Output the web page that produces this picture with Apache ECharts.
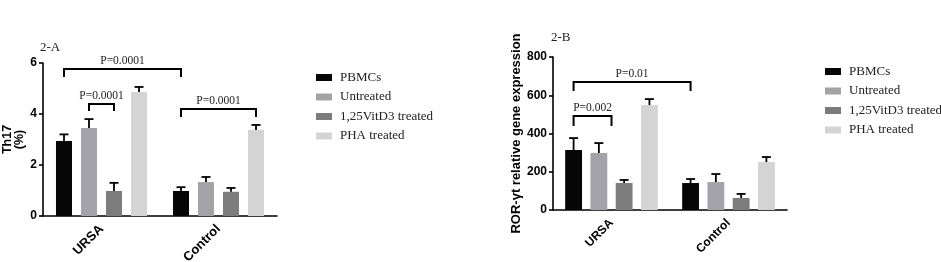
<!DOCTYPE html>
<html>
<head>
<meta charset="utf-8">
<script src="https://cdn.jsdelivr.net/npm/echarts@6/dist/echarts.min.js"></script>
<style>html,body{margin:0;padding:0;background:#fff}#c{width:941px;height:262px}</style>
</head>
<body>
<div id="c"></div>
<script>
// ---- data ----
const categories = ['URSA', 'Control'];
const groupNames = ['PBMCs', 'Untreated', '1,25VitD3 treated', 'PHA treated'];
const groupColors = ['#060606', '#a2a2a8', '#7c7c7c', '#d4d4d4'];

// Panel 2-A : Th17 (%) -- per group, per category
const th17Means = [[2.94, 0.98], [3.45, 1.33], [0.98, 0.95], [4.86, 3.37]];
const th17SD    = [[0.26, 0.15], [0.35, 0.20], [0.32, 0.15], [0.20, 0.20]];
const th17Ticks = [0, 2, 4, 6];
// brackets: [category, slot] from / to, bar height, leg end, label
const th17Brackets = [
  { from: [0, 0], to: [1, 0], y: 5.76, leg: 5.45, label: 'P=0.0001' },
  { from: [0, 1], to: [0, 2], y: 4.39, leg: 4.12, label: 'P=0.0001' },
  { from: [1, 0], to: [1, 3], y: 4.20, leg: 3.88, label: 'P=0.0001' }
];

// Panel 2-B : ROR-γt relative gene expression
const rorMeans = [[314, 141], [298, 146], [141, 63], [549, 251]];
const rorSD    = [[62, 21], [52, 42], [16, 21], [31, 26]];
const rorTicks = [0, 200, 400, 600, 800];
const rorBrackets = [
  { from: [0, 0], to: [1, 0], y: 669, leg: 622, label: 'P=0.01' },
  { from: [0, 0], to: [0, 1.5], y: 491, leg: 439, label: 'P=0.002' }
];

// ---- layout / style ----
const panels = [
  { title: '2-A', grid: { left: 43, top: 63, width: 234, bottom: 46 },
    means: th17Means, sd: th17SD, ticks: th17Ticks, brackets: th17Brackets,
    barW: 0.137, gap: 0.56, yName: 'Th17\n(%)', nameGap: 17, nameSize: 12.5, nameLH: 12.5, xFont: 13,
    titlePos: { left: 35, top: 36 }, legendPos: { left: 311, top: 66 } },
  { title: '2-B', grid: { left: 553, top: 57, width: 234, bottom: 52 },
    means: rorMeans, sd: rorSD, ticks: rorTicks, brackets: rorBrackets,
    barW: 0.144, gap: 0.50, yName: 'ROR-γt relative gene expression', nameGap: 29, nameSize: 13, nameLH: 14, xFont: 12,
    titlePos: { left: 546, top: 26 }, legendPos: { left: 820, top: 60 } }
];

function slotX(p, cat, slot) {
  const step = p.barW * (1 + p.gap);
  return cat + 0.5 + (slot - 1.5) * step;
}

const option = {
  animation: false,
  backgroundColor: '#fff',
  title: [], legend: [], grid: [], xAxis: [], yAxis: [], series: []
};

panels.forEach((p, pi) => {
  option.title.push({
    text: p.title, left: p.titlePos.left, top: p.titlePos.top,
    textStyle: { fontFamily: 'Liberation Serif', fontSize: 13, fontWeight: 'normal', color: '#222' }
  });
  option.legend.push({
    data: groupNames, orient: 'vertical', left: p.legendPos.left, top: p.legendPos.top,
    icon: 'rect', itemWidth: 16, itemHeight: 7, itemGap: 6.5, selectedMode: false,
    textStyle: { fontFamily: 'Liberation Serif', fontSize: 13, color: '#222', padding: [0, 0, 0, 3] }
  });
  option.grid.push(Object.assign({ containLabel: false, outerBoundsMode: 'none' }, p.grid));
  const catAxis = option.xAxis.length;
  option.xAxis.push({
    type: 'category', gridIndex: pi, data: categories,
    axisLine: { lineStyle: { color: '#000', width: 1.6 } },
    axisTick: { alignWithLabel: true, length: 5, lineStyle: { color: '#000', width: 1.6 } },
    axisLabel: { rotate: 45, margin: 11, color: '#000', fontFamily: 'Liberation Sans',
                 fontWeight: 'bold', fontSize: p.xFont },
    splitLine: { show: false }
  });
  const valAxis = option.xAxis.length;
  option.xAxis.push({ type: 'value', gridIndex: pi, min: 0, max: categories.length, show: false });
  const t = p.ticks;
  option.yAxis.push({
    type: 'value', gridIndex: pi, min: t[0], max: t[t.length - 1], interval: t[1] - t[0],
    name: p.yName, nameLocation: 'middle', nameGap: p.nameGap,
    nameTextStyle: { fontFamily: 'Liberation Sans', fontWeight: 'bold', fontSize: p.nameSize,
                     color: '#000', lineHeight: p.nameLH },
    axisLine: { show: true, lineStyle: { color: '#000', width: 1.6 } },
    axisTick: { show: true, length: 4, lineStyle: { color: '#000', width: 1.6 } },
    axisLabel: { color: '#000', fontFamily: 'Liberation Sans', fontWeight: 'bold', fontSize: 12, margin: 6 },
    splitLine: { show: false }
  });
  // bars
  groupNames.forEach((g, gi) => {
    option.series.push({
      type: 'bar', name: g, xAxisIndex: catAxis, yAxisIndex: pi,
      data: p.means[gi], barWidth: (p.barW * 100) + '%', barGap: (p.gap * 100) + '%',
      itemStyle: { color: groupColors[gi] }, silent: true
    });
  });
  // error bars (upper)
  const errData = [];
  groupNames.forEach((g, gi) => {
    categories.forEach((c, ci) => {
      errData.push([slotX(p, ci, gi), p.means[gi][ci], p.means[gi][ci] + p.sd[gi][ci]]);
    });
  });
  option.series.push({
    type: 'custom', xAxisIndex: valAxis, yAxisIndex: pi, data: errData, z: 5, silent: true,
    renderItem: (params, api) => {
      const a = api.coord([api.value(0), api.value(1)]);
      const b = api.coord([api.value(0), api.value(2)]);
      const st = { stroke: '#000', lineWidth: 1.8 };
      return { type: 'group', children: [
        { type: 'line', shape: { x1: a[0], y1: a[1], x2: b[0], y2: b[1] }, style: st },
        { type: 'line', shape: { x1: b[0] - 4.5, y1: b[1], x2: b[0] + 4.5, y2: b[1] }, style: st }
      ]};
    }
  });
  // significance brackets
  const brData = p.brackets.map(b => [slotX(p, b.from[0], b.from[1]), slotX(p, b.to[0], b.to[1]), b.y, b.leg]);
  option.series.push({
    type: 'custom', xAxisIndex: valAxis, yAxisIndex: pi, data: brData, z: 6, silent: true, clip: false,
    renderItem: (params, api) => {
      const p1 = api.coord([api.value(0), api.value(3)]);
      const p2 = api.coord([api.value(0), api.value(2)]);
      const p3 = api.coord([api.value(1), api.value(2)]);
      const p4 = api.coord([api.value(1), api.value(3)]);
      return { type: 'group', children: [
        { type: 'polyline', shape: { points: [p1, p2, p3, p4] },
          style: { stroke: '#000', lineWidth: 2, fill: null } },
        { type: 'text', x: (p2[0] + p3[0]) / 2, y: p2[1] - 2,
          style: { text: p.brackets[params.dataIndex].label, textAlign: 'center', textVerticalAlign: 'bottom',
                   fontFamily: 'Liberation Serif', fontSize: 11.5, fill: '#222' } }
      ]};
    }
  });
});

const chart = echarts.init(document.getElementById('c'), null, { renderer: 'canvas' });
chart.setOption(option);
</script>
</body>
</html>
